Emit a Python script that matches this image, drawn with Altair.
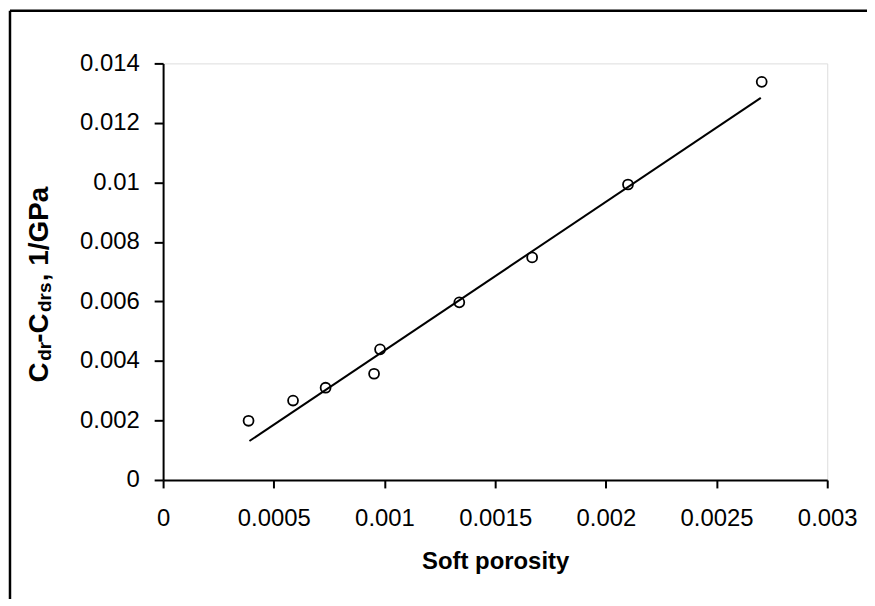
import altair as alt
import pandas as pd

# ---- data ----
porosity = [0.000386, 0.000587, 0.000734, 0.000953, 0.00098, 0.001338, 0.001667, 0.0021, 0.002704]
compliance = [0.00199, 0.00267, 0.0031, 0.00357, 0.00439, 0.00597, 0.00748, 0.00993, 0.01338]
fit_x = [0.00039, 0.0027]
fit_y = [0.00131, 0.01284]
x_ticks = [0, 0.0005, 0.001, 0.0015, 0.002, 0.0025, 0.003]
y_ticks = [0, 0.002, 0.004, 0.006, 0.008, 0.01, 0.012, 0.014]

FONT = "Liberation Sans"

pts = pd.DataFrame({"x": porosity, "y": compliance})
fit = pd.DataFrame({"x": fit_x, "y": fit_y})
one = pd.DataFrame({"k": [0]})

xs = alt.Scale(domain=[0, 0.003], nice=False, zero=False)
ys = alt.Scale(domain=[0, 0.014], nice=False, zero=False)

x_axis = alt.Axis(
    values=x_ticks, format="~g", title="Soft porosity", grid=False,
    domainColor="black", domainWidth=2, tickColor="black", tickWidth=2, tickSize=8,
    labelFont=FONT, labelFontSize=24, labelColor="black", labelBaseline="alphabetic",
    labelPadding=38, labelFlush=False,
    titleFont=FONT, titleFontSize=24, titleFontWeight="bold", titleColor="black",
    titleBaseline="alphabetic", titleY=89,
)
y_axis = alt.Axis(
    values=y_ticks, format="~g", title=None, grid=False,
    domainColor="black", domainWidth=2, tickColor="black", tickWidth=2, tickSize=9,
    labelFont=FONT, labelFontSize=24, labelColor="black", labelPadding=15, labelFlush=False,
)

line = alt.Chart(fit).mark_line(color="black", strokeWidth=2).encode(
    x=alt.X("x:Q", scale=xs, axis=x_axis),
    y=alt.Y("y:Q", scale=ys, axis=y_axis),
)
points = alt.Chart(pts).mark_point(
    shape="circle", filled=False, color="black", size=100, strokeWidth=1.8, opacity=1
).encode(
    x=alt.X("x:Q", scale=xs),
    y=alt.Y("y:Q", scale=ys),
)

# y-axis title with subscripts, pieces placed along the rotated baseline
def piece(text, size, px, py):
    return alt.Chart(one).mark_text(
        text=text, angle=270, align="left", baseline="alphabetic",
        font=FONT, fontSize=size, fontWeight="bold", color="black",
    ).encode(x=alt.value(px), y=alt.value(py))

title_parts = [
    piece("C", 28, -116, 321),
    piece("dr", 19, -113, 299),
    piece("-C", 28, -116, 281),
    piece("drs", 19, -113, 250),
    piece(", 1/GPa", 28, -116, 219),
]

border_left = alt.Chart(one).mark_rule(color="black", strokeWidth=2.5).encode(
    x=alt.value(-154), y=alt.value(-53), y2=alt.value(540)
)
border_top = alt.Chart(one).mark_rule(color="black", strokeWidth=2.5).encode(
    x=alt.value(-154), x2=alt.value(720), y=alt.value(-53)
)

chart = alt.layer(line, points, border_left, border_top, *title_parts).properties(
    width=668, height=419,
    autosize=alt.AutoSizeParams(type="none"),
    padding={"left": 156, "top": 54, "right": 40, "bottom": 118},
).configure_view(stroke="black", strokeWidth=2).configure(background="white")

chart.save("out.html", embed_options={"renderer": "svg", "actions": False})
